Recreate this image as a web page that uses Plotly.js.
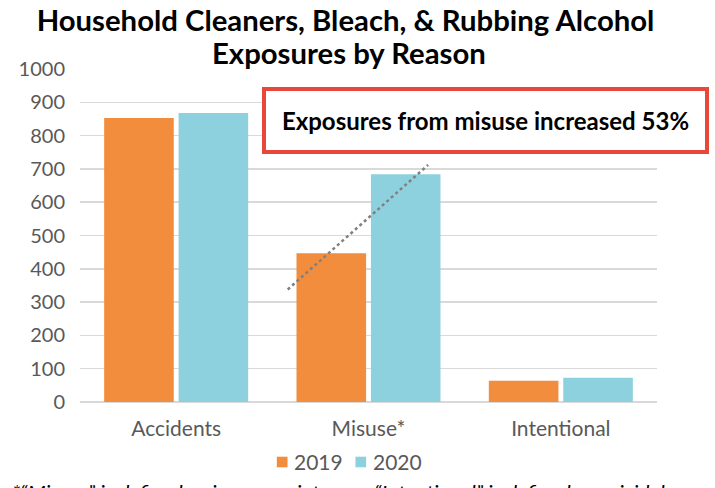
<!DOCTYPE html>
<html><head><meta charset="utf-8">
<script src="https://cdn.plot.ly/plotly-3.0.1.min.js"></script>
<style>html,body{margin:0;padding:0;background:#fff}#c{width:715px;height:488px}</style>
</head><body><div id="c"></div>
<script>
const categories = ["Accidents", "Misuse*", "Intentional"];
const years = ["2019", "2020"];
const values2019 = [853, 447, 64];
const values2020 = [868, 684, 73];
const trendX = [0.58, 1.31];
const trendY = [338, 712];
const yTicks = [0,100,200,300,400,500,600,700,800,900,1000];
const colors = ["#F38D3E", "#8ED1DE"];

// pixel helpers for paper coords (plot area: x 80..657.5, y 69..402)
const PX = px => (px - 80) / 577.5;
const PY = py => (402 - py) / 333;

const traces = [
  {type:"bar", name:years[0], x:categories, y:values2019, marker:{color:colors[0]}},
  {type:"bar", name:years[1], x:categories, y:values2020, marker:{color:colors[1]}},
  {type:"scatter", mode:"lines", x:trendX, y:trendY, xaxis:"x2", showlegend:false,
   line:{color:"#808080", width:2.5, dash:"dot"}, hoverinfo:"skip"}
];

const legendSquares = [[277, 355.7], [colors[0], colors[1]]];
const shapes = years.map((yr, i) => ({
  type:"rect", xref:"paper", yref:"paper",
  x0:PX(legendSquares[0][i]), x1:PX(legendSquares[0][i] + 10.7),
  y0:PY(467.3), y1:PY(456.7), fillcolor:legendSquares[1][i], line:{width:0}
}));
const legendLabels = years.map((yr, i) => ({
  text:yr, xref:"paper", yref:"paper", x:PX([292.5, 371.5][i]), y:PY(461.5),
  xanchor:"left", yanchor:"middle", showarrow:false, font:{size:21, color:"#595959"}
}));

const layout = {
  width:715, height:488,
  margin:{l:80, r:57.5, t:69, b:86},
  paper_bgcolor:"#fff", plot_bgcolor:"#fff",
  font:{family:"Lato, sans-serif", color:"#595959"},
  title:{text:"<b>Household Cleaners, Bleach, & Rubbing Alcohol</b>",
    font:{family:"Lato, sans-serif", size:29.3, color:"#000"}, xref:"container", x:345.5/715, xanchor:"center",
    yref:"container", y:1-21/488, yanchor:"middle", automargin:false},
  barmode:"group", bargap:0.226, bargroupgap:0.065,
  xaxis:{type:"category", tickfont:{size:21, color:"#595959"}, showgrid:false, showline:false, ticks:"",
    zeroline:false, automargin:false, ticklabelstandoff:12},
  xaxis2:{overlaying:"x", range:[-0.5,2.5], visible:false},
  yaxis:{range:[0,1000], tickvals:yTicks, tickfont:{size:20, color:"#595959"}, showgrid:true, gridcolor:"#D9D9D9", gridwidth:1.5,
    zeroline:true, zerolinecolor:"#D9D9D9", zerolinewidth:1.5, showline:false, ticks:"", ticklen:0, automargin:false,
    ticklabelstandoff:14},
  showlegend:false,
  shapes:shapes,
  annotations:[
    {text:"<b>Exposures by Reason</b>", xref:"paper", yref:"paper", x:PX(349.5), y:PY(53),
     xanchor:"center", yanchor:"middle", showarrow:false, font:{size:29.3, color:"#000"}},
    {text:"<b>Exposures from misuse increased 53%</b>", xref:"paper", yref:"paper",
     x:PX(486), y:PY(120), xanchor:"center", yanchor:"middle", showarrow:false,
     font:{size:24, color:"#000"}, bordercolor:"#E8483A", borderwidth:4, bgcolor:"#fff",
     width:437, height:57},
    {text:"<i>*\u201CMisuse\u201D is defined as inappropriate use; \u201CIntentional\u201D is defined as suicidal</i>",
     xref:"paper", yref:"paper", x:PX(10), y:PY(478), xanchor:"left", yanchor:"top",
     showarrow:false, font:{size:21, color:"#000"}}
  ].concat(legendLabels)
};
Plotly.newPlot("c", traces, layout, {displayModeBar:false, staticPlot:true});
</script></body></html>
